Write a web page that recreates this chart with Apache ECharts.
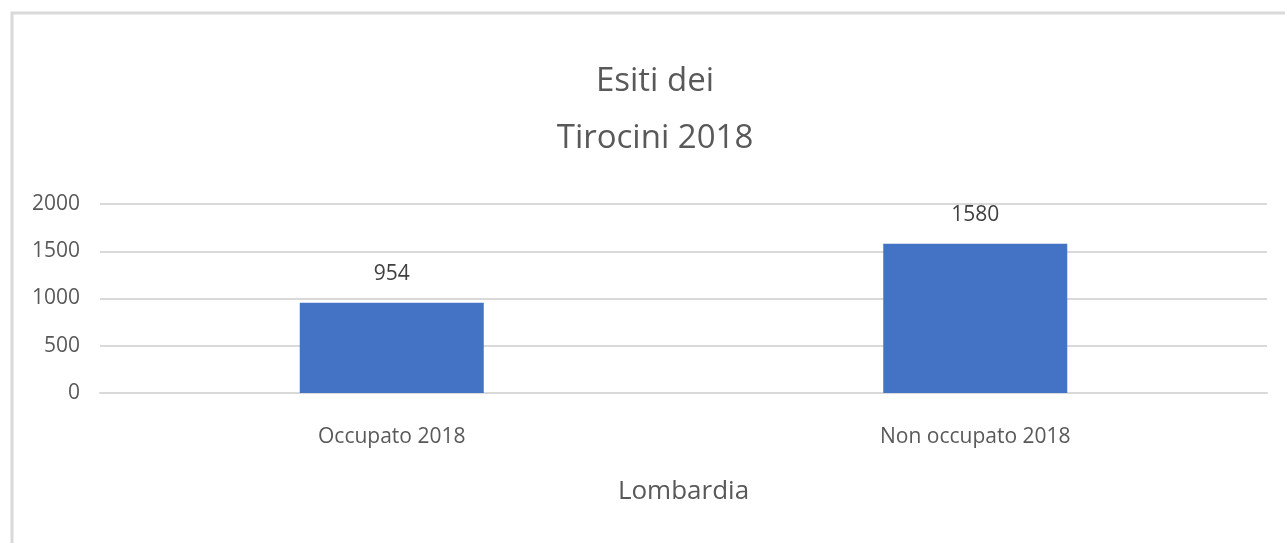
<!DOCTYPE html>
<html>
<head>
<meta charset="utf-8">
<script src="https://cdn.jsdelivr.net/npm/echarts@6/dist/echarts.min.js"></script>
<style>
  html, body { margin: 0; padding: 0; background: #fff; }
  #main { width: 1285px; height: 543px; }
</style>
</head>
<body>
<div id="main"></div>
<script>
var categories = ['Occupato 2018', 'Non occupato 2018']; // esiti
var values = [954, 1580];
var yTicks = [0, 500, 1000, 1500, 2000];

var font = "'Open Sans', sans-serif";
var chart = echarts.init(document.getElementById('main'));

var option = {
  backgroundColor: '#ffffff',
  animation: false,
  title: {
    text: 'Esiti dei\nTirocini 2018',
    left: 650,
    textAlign: 'center',
    top: 48,
    textStyle: {
      fontFamily: font,
      fontSize: 33,
      fontWeight: 'normal',
      color: '#595959',
      lineHeight: 57
    }
  },
  graphic: [{
    type: 'rect',
    shape: { x: 12, y: 13, width: 1400, height: 700 },
    style: { fill: 'none', stroke: '#d9d9d9', lineWidth: 3 },
    silent: true
  }],
  grid: { left: 100, right: 18, top: 204, bottom: 150 },
  xAxis: {
    type: 'category',
    data: categories,
    name: 'Lombardia',
    nameLocation: 'middle',
    nameGap: 86,
    nameTextStyle: { fontFamily: font, fontSize: 26, color: '#595959' },
    axisLine: { show: true, lineStyle: { color: '#d9d9d9', width: 2 } },
    axisTick: { show: false },
    axisLabel: { fontFamily: font, fontSize: 21, color: '#595959', margin: 34 }
  },
  yAxis: {
    type: 'value',
    min: yTicks[0],
    max: yTicks[yTicks.length - 1],
    interval: 500,
    axisLine: { show: false },
    axisTick: { show: false },
    axisLabel: {
      fontFamily: font, fontSize: 21, color: '#595959', margin: 20,
      formatter: function (v) { return String(v); }
    },
    splitLine: { lineStyle: { color: '#d9d9d9', width: 2 } }
  },
  series: [{
    type: 'bar',
    data: values,
    barWidth: 184,
    itemStyle: { color: '#4472c4' },
    label: {
      show: true,
      position: 'top',
      distance: 18,
      fontFamily: font,
      fontSize: 21,
      color: '#404040'
    }
  }]
};

chart.setOption(option);
</script>
</body>
</html>
